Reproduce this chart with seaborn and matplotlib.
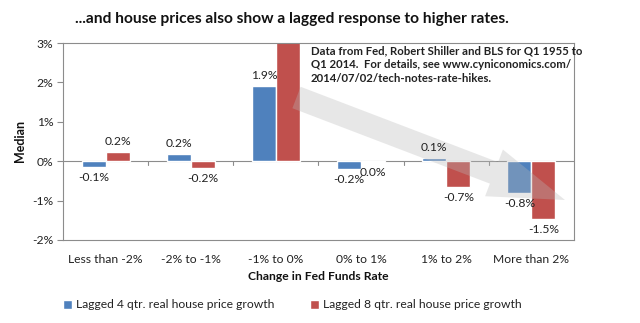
import numpy as np
import pandas as pd
import matplotlib
matplotlib.use("Agg")
import matplotlib.pyplot as plt
import seaborn as sns
from matplotlib.patches import Polygon

# Median lagged real house price growth (%) by change in the Fed Funds rate
categories = ["Less than -2%", "-2% to -1%", "-1% to 0%", "0% to 1%", "1% to 2%", "More than 2%"]
lag4_growth = [-0.14, 0.18, 1.90, -0.20, 0.08, -0.81]
lag8_growth = [0.23, -0.17, 3.30, -0.03, -0.66, -1.46]
series_names = ["Lagged 4 qtr. real house price growth", "Lagged 8 qtr. real house price growth"]
y_ticks = [-2, -1, 0, 1, 2, 3]

title = "...and house prices also show a lagged response to higher rates."
note = ("Data from Fed, Robert Shiller and BLS for Q1 1955 to\n"
        "Q1 2014.  For details, see www.cyniconomics.com/\n"
        "2014/07/02/tech-notes-rate-hikes.")

BLUE = "#4F81BD"
RED = "#C0504D"
GREY = "#8C8C8C"

df = pd.DataFrame({
    "category": categories * 2,
    "series": [series_names[0]] * len(categories) + [series_names[1]] * len(categories),
    "value": lag4_growth + lag8_growth,
})

sns.set_style("white")
plt.rcParams["font.family"] = ["Lato", "DejaVu Sans"]

W, H = 640, 323
fig = plt.figure(figsize=(W / 100, H / 100), dpi=100)
# plot area in pixels: x 63..574, y 43..240
L, R, T, B = 63, 574, 43, 240
ax = fig.add_axes([L / W, 1 - B / H, (R - L) / W, (B - T) / H])

sns.barplot(data=df, x="category", y="value", hue="series", order=categories,
            hue_order=series_names, palette=[BLUE, RED], saturation=1,
            width=0.565, gap=0, legend=False, ax=ax, zorder=2)

ax.set_ylim(y_ticks[0], y_ticks[-1])
ax.set_xlim(-0.5, len(categories) - 0.5)
ax.set_yticks(y_ticks)
ax.set_yticklabels([f"{t}%" for t in y_ticks])
ax.set_xlabel("")
ax.set_ylabel("")

for sp in ax.spines.values():
    sp.set_visible(True)
    sp.set_color(GREY)
    sp.set_linewidth(0.8)

ax.tick_params(axis="y", length=4, width=0.8, color=GREY, pad=3,
               labelsize=8.7, labelcolor="#222222", left=True)
ax.tick_params(axis="x", length=0, pad=10, labelsize=8.7, labelcolor="#222222")

# horizontal axis line at zero with category divider ticks
ax.axhline(0, color=GREY, lw=0.8, zorder=1)
for b in np.arange(0.5, len(categories) - 1, 1.0):
    ax.plot([b, b], [0, -0.1], color=GREY, lw=0.8, zorder=1, clip_on=False)

# value labels
ymax = y_ticks[-1]
for container, vals in zip(ax.containers, [lag4_growth, lag8_growth]):
    for bar, v in zip(container, vals):
        if v > ymax:
            continue
        xc = bar.get_x() + bar.get_width() / 2
        txt = f"{round(v, 1) + 0.0:.1f}%"
        ax.annotate(txt, (xc, v), xytext=(0, 3.5 if v >= 0 else -3.5),
                    textcoords="offset points", ha="center",
                    va="bottom" if v >= 0 else "top",
                    fontsize=8.7, color="#222222", zorder=5)

# translucent trend arrow (pixel geometry converted to axes fraction)
tail = np.array([296.5, 97.5])
tip = np.array([565.0, 200.0])
u = (tip - tail) / np.linalg.norm(tip - tail)
n = np.array([u[1], -u[0]])
shaft_hw, head_hw, head_len = 11.5, 25, 76
base = tip - head_len * u
pts_px = np.array([
    tail + shaft_hw * n,
    base + shaft_hw * n,
    base + head_hw * n,
    tip,
    base - head_hw * n,
    base - shaft_hw * n,
    tail - shaft_hw * n,
])
pts_ax = np.column_stack([(pts_px[:, 0] - L) / (R - L), (B - pts_px[:, 1]) / (B - T)])
ax.add_patch(Polygon(pts_ax, closed=True, transform=ax.transAxes,
                     facecolor="#B8B8B8", edgecolor="none", alpha=0.33, zorder=4))

# texts
fig.text(292 / W, 1 - 19 / H, title, ha="center", va="center",
         fontsize=11.2, fontweight="bold", color="#111111")
fig.text(311 / W, 1 - 45 / H, note, ha="left", va="top", fontsize=8.2,
         fontweight="bold", color="#222222", linespacing=1.35, zorder=6)
fig.text(20 / W, 1 - 141 / H, "Median", rotation=90, ha="center", va="center",
         fontsize=9, fontweight="bold", color="#111111")
fig.text(318 / W, 1 - 277 / H, "Change in Fed Funds Rate", ha="center", va="center",
         fontsize=8.7, fontweight="bold", color="#111111")

handles = [container.patches[0] for container in ax.containers]
fig.legend(handles, series_names, loc="center left",
           bbox_to_anchor=(52 / W, 1 - 305 / H), ncol=2, frameon=False,
           fontsize=8.7, handlelength=0.75, handleheight=0.75, handletextpad=0.3,
           columnspacing=3.0, labelcolor="#222222")

fig.savefig("out.png", dpi=100)
